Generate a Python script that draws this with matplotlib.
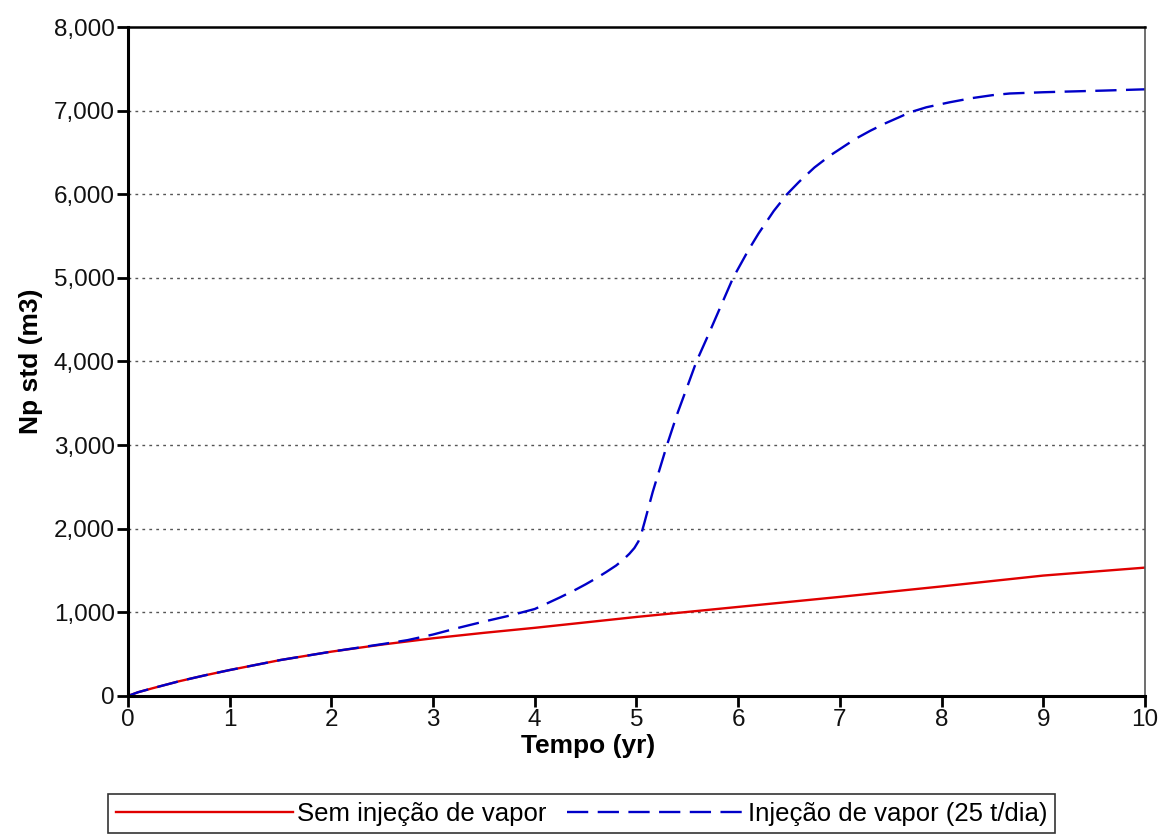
import numpy as np
import matplotlib
matplotlib.use("Agg")
import matplotlib.pyplot as plt
from matplotlib.ticker import StrMethodFormatter

# ---------------- dados ----------------
t_sem = [0, 0.1, 0.25, 0.5, 0.75, 1, 1.5, 2, 2.5, 3, 3.5, 4, 5, 6, 7, 8, 9, 10]
np_sem = [0, 45, 95, 175, 245, 310, 430, 530, 615, 690, 755, 815, 945, 1065, 1185, 1310, 1440, 1535]

t_inj = [0, 0.1, 0.25, 0.5, 0.75, 1, 1.5, 2, 2.5, 2.75, 3.0, 3.25, 3.5, 3.75, 4.0,
         4.1, 4.25, 4.4, 4.5, 4.6, 4.7, 4.8, 4.87, 4.93, 4.98, 5.02, 5.05, 5.08,
         5.12, 5.16, 5.2, 5.3, 5.4, 5.5, 5.59, 5.7, 5.8, 5.95, 6.1, 6.2, 6.35, 6.48,
         6.6, 6.75, 6.9, 7.0, 7.15, 7.3, 7.45, 7.59, 7.69, 7.85, 8.08, 8.3, 8.5,
         8.67, 9.0, 9.23, 9.6, 10]
np_inj = [0, 45, 95, 175, 245, 310, 430, 530, 620, 668, 735, 815, 890, 960, 1040,
          1095, 1180, 1270, 1335, 1405, 1480, 1560, 1630, 1700, 1770, 1850, 1950, 2080,
          2260, 2440, 2600, 3000, 3370, 3700, 4000, 4300, 4580, 5000, 5330, 5530, 5800, 6000,
          6150, 6320, 6460, 6540, 6660, 6760, 6850, 6925, 6980, 7040, 7100, 7150, 7185,
          7205, 7220, 7228, 7240, 7255]

rotulos = ["Sem injeção de vapor", "Injeção de vapor (25 t/dia)"]

# ---------------- figura ----------------
plt.rcParams['font.family'] = ['Liberation Sans', 'DejaVu Sans']

fig = plt.figure(figsize=(11.63, 8.34), dpi=100)
ax = fig.add_axes([0.110, 0.1655, 0.8745, 0.8021])

ax.plot(t_sem, np_sem, color='#e00000', lw=1.7, label=rotulos[0])
ax.plot(t_inj, np_inj, color='#0000c8', lw=1.7, ls=(0, (9, 4)), label=rotulos[1])

ax.set_xlim(0, 10)
ax.set_ylim(0, 8000)
ax.set_xticks(range(0, 11))
ax.set_yticks(range(0, 8001, 1000))
ax.yaxis.set_major_formatter(StrMethodFormatter('{x:,.0f}'))

# grade horizontal pontilhada
for yv in range(1000, 8000, 1000):
    ax.axhline(yv, color='#555555', lw=1.0, ls=(0, (2, 3)), zorder=0)

ax.tick_params(axis='both', labelsize=17.5, length=8, width=2, direction='out', pad=1.5,
               labelcolor='#111111')
for lado in ['left', 'bottom']:
    ax.spines[lado].set_linewidth(2.2)
    ax.spines[lado].set_color('black')
ax.spines['top'].set_linewidth(1.8)
ax.spines['top'].set_color('black')
ax.spines['right'].set_linewidth(1.2)
ax.spines['right'].set_color('#555555')

ax.set_xlabel('Tempo (yr)', fontsize=19, fontweight='bold')
ax.xaxis.set_label_coords(0.452, -0.057)
ax.set_ylabel('Np std (m3)', fontsize=19, fontweight='bold', labelpad=8)

leg = fig.legend(loc='upper center', bbox_to_anchor=(0.5, 0.048), ncol=2,
                 fontsize=18.5, frameon=True, fancybox=False, edgecolor='black',
                 handlelength=6.9, handletextpad=0.15, columnspacing=0.8,
                 borderpad=0.3, borderaxespad=0)
leg.get_frame().set_linewidth(1.2)

fig.savefig('out.png', dpi=100)
